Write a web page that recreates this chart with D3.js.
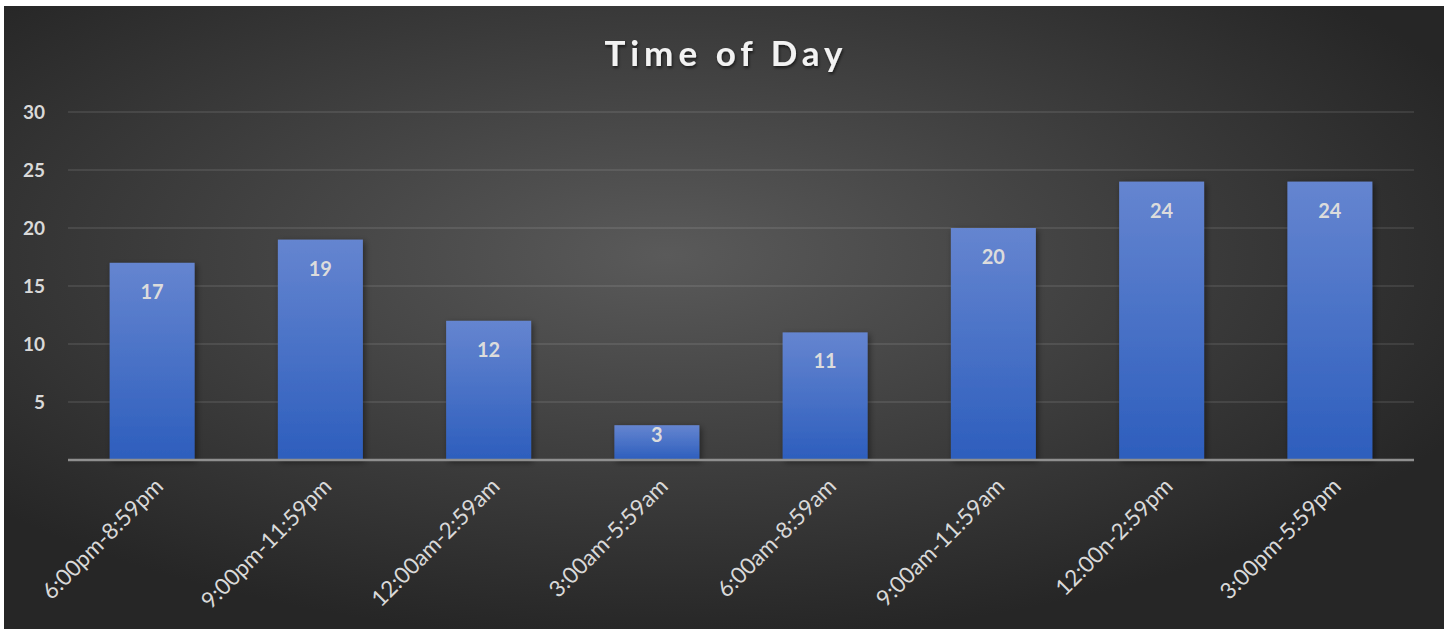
<!DOCTYPE html>
<html>
<head>
<meta charset="utf-8">
<script src="https://cdn.jsdelivr.net/npm/d3@7"></script>
<style>
  body { margin: 0; background: #fff; }
  #chart { position: absolute; left: 0; top: 0; }
</style>
</head>
<body>
<div id="chart"></div>
<script>
// data
var categories = ["6:00pm-8:59pm", "9:00pm-11:59pm", "12:00am-2:59am", "3:00am-5:59am",
                  "6:00am-8:59am", "9:00am-11:59am", "12:00n-2:59pm", "3:00pm-5:59pm"];
var counts = [17, 19, 12, 3, 11, 20, 24, 24];
var yTicks = [5, 10, 15, 20, 25, 30];
var title = "Time of Day";

var W = 1450, H = 629;
var margin = {top: 112, right: 36, bottom: 169, left: 68};

var svg = d3.select("#chart").append("svg")
    .attr("width", W)
    .attr("height", H);

var defs = svg.append("defs");

var bg = defs.append("radialGradient")
    .attr("id", "bg")
    .attr("cx", "46%").attr("cy", "40%").attr("r", "62%");
bg.append("stop").attr("offset", "0%").attr("stop-color", "#5a5a5a");
bg.append("stop").attr("offset", "100%").attr("stop-color", "#262626");

var barGrad = defs.append("linearGradient")
    .attr("id", "barGrad")
    .attr("x1", 0).attr("y1", 0).attr("x2", 0).attr("y2", 1);
barGrad.append("stop").attr("offset", "0%").attr("stop-color", "#6585d0");
barGrad.append("stop").attr("offset", "100%").attr("stop-color", "#2d5ebd");

var shadow = defs.append("filter")
    .attr("id", "shadow")
    .attr("x", "-20%").attr("y", "-20%").attr("width", "140%").attr("height", "140%");
shadow.append("feDropShadow")
    .attr("dx", 2).attr("dy", 2).attr("stdDeviation", 3)
    .attr("flood-color", "#000").attr("flood-opacity", 0.45);

var titleShadow = defs.append("filter").attr("id", "titleShadow");
titleShadow.append("feDropShadow")
    .attr("dx", 1).attr("dy", 2).attr("stdDeviation", 1.5)
    .attr("flood-color", "#000").attr("flood-opacity", 0.6);

// chart area
svg.append("rect")
    .attr("x", 4).attr("y", 6)
    .attr("width", 1440).attr("height", H - 6)
    .attr("fill", "url(#bg)");

var width = W - margin.left - margin.right,
    height = 460 - margin.top;

var g = svg.append("g")
    .attr("transform", "translate(" + margin.left + "," + margin.top + ")");

var x = d3.scaleBand()
    .domain(categories)
    .range([0, width])
    .paddingInner(0.495)
    .paddingOuter(0.2475);

var y = d3.scaleLinear()
    .domain([0, 30])
    .range([height, 0]);

// gridlines
g.selectAll(".grid")
    .data(yTicks)
    .enter()
    .append("line")
        .attr("x1", 0).attr("x2", width)
        .attr("y1", function(d) { return y(d); })
        .attr("y2", function(d) { return y(d); })
        .attr("stroke", "#ffffff")
        .attr("stroke-opacity", 0.12)
        .attr("stroke-width", 1.5);

// y tick labels
g.selectAll(".ytick")
    .data(yTicks)
    .enter()
    .append("text")
        .attr("x", -23)
        .attr("y", function(d) { return y(d); })
        .attr("dy", "0.36em")
        .attr("text-anchor", "end")
        .style("font-family", "Lato, 'Open Sans', sans-serif")
        .style("font-weight", "bold")
        .style("font-size", "19px")
        .style("fill", "#d9d9d9")
        .text(function(d) { return d; });

// bars
g.selectAll(".bar")
    .data(counts)
    .enter()
    .append("rect")
        .attr("x", function(d, i) { return x(categories[i]); })
        .attr("y", function(d) { return y(d); })
        .attr("width", x.bandwidth())
        .attr("height", function(d) { return y(0) - y(d); })
        .attr("fill", "url(#barGrad)")
        .attr("filter", "url(#shadow)");

// bar value labels
g.selectAll(".val")
    .data(counts)
    .enter()
    .append("text")
        .attr("x", function(d, i) { return x(categories[i]) + x.bandwidth() / 2; })
        .attr("y", function(d) { return Math.min(y(d) + 36, y(0) - 18); })
        .attr("text-anchor", "middle")
        .style("font-family", "Lato, 'Open Sans', sans-serif")
        .style("font-weight", "bold")
        .style("font-size", "20px")
        .style("fill", "#dcdcdc")
        .text(function(d) { return d; });

// x axis line
g.append("line")
    .attr("x1", 0).attr("x2", width)
    .attr("y1", y(0)).attr("y2", y(0))
    .attr("stroke", "#8f8f8f")
    .attr("stroke-width", 2.5);

// x labels, rotated
g.selectAll(".xlab")
    .data(categories)
    .enter()
    .append("text")
        .attr("transform", function(d) {
            var cx = x(d) + x.bandwidth() / 2 + 7;
            return "translate(" + cx + "," + (y(0) + 22) + ") rotate(-45)";
        })
        .attr("text-anchor", "end")
        .attr("dy", "0.35em")
        .style("font-family", "Lato, 'Open Sans', sans-serif")
        .style("font-size", "22.5px")
        .style("fill", "#d9d9d9")
        .text(function(d) { return d; });

// title
svg.append("text")
    .attr("x", 726)
    .attr("y", 66)
    .attr("text-anchor", "middle")
    .attr("filter", "url(#titleShadow)")
    .style("font-family", "Lato, 'Open Sans', sans-serif")
    .style("font-weight", "bold")
    .style("font-size", "35px")
    .style("letter-spacing", "5px")
    .style("fill", "#f2f2f2")
    .text(title);
</script>
</body>
</html>
